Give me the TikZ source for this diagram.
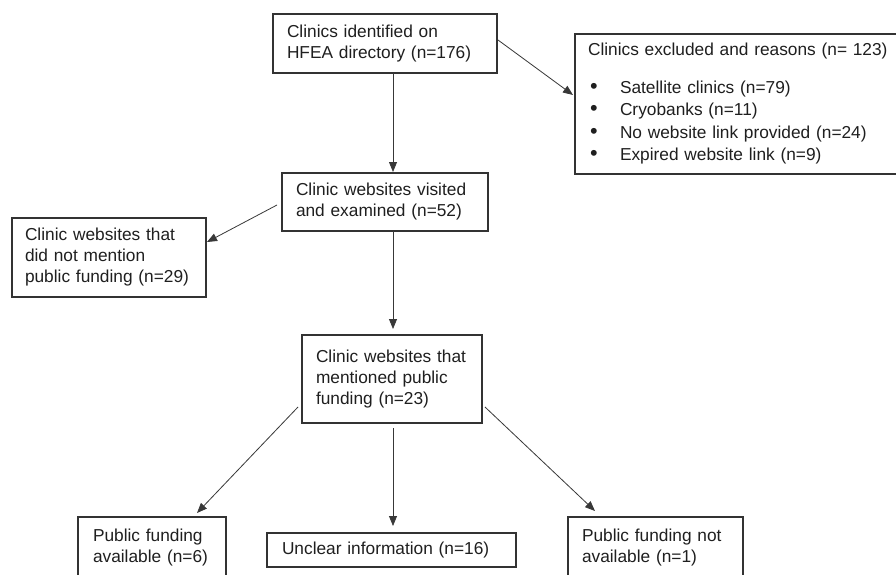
\documentclass[tikz,border=0pt]{standalone}
\usepackage{fontspec}
\setmainfont{Liberation Sans}
\usetikzlibrary{arrows.meta,calc}
\begin{document}
\begin{tikzpicture}[x=1pt,y=-1pt,
  box/.style={draw=black!80, line width=1.2pt, anchor=north west, align=left,
    inner xsep=14pt, inner ysep=0pt, outer sep=0pt,
    font=\fontsize{17.3}{21}\selectfont, text=black!88},
  conn/.style={draw=black!78, line width=0.8pt, -{Triangle[length=10pt,width=8pt]}}]
\useasboundingbox (0,0) rectangle (896,575);
\fill[white] (0,0) rectangle (896,575);
\node[box, minimum width=346pt, minimum height=140pt, text width=320pt, inner xsep=13pt,
  font=\fontsize{17.3}{22.5}\selectfont] (excl) at (575,34)
  {Clinics excluded and reasons (n= 123)\\[15pt]
   \makebox[32pt][l]{\hspace{2pt}\scalebox{1.25}{•}}Satellite clinics (n=79)\\
   \makebox[32pt][l]{\hspace{2pt}\scalebox{1.25}{•}}Cryobanks (n=11)\\
   \makebox[32pt][l]{\hspace{2pt}\scalebox{1.25}{•}}No website link provided (n=24)\\
   \makebox[32pt][l]{\hspace{2pt}\scalebox{1.25}{•}}Expired website link (n=9)};
\node[box, minimum width=224pt, minimum height=59pt, text width=196pt] (ident) at (273,14)
  {Clinics identified on\\HFEA directory (n=176)};
\node[box, minimum width=206pt, minimum height=58pt, text width=178pt, inner xsep=13pt] (visited) at (282,173)
  {Clinic websites visited\\and examined (n=52)};
\node[box, minimum width=194pt, minimum height=79pt, text width=168pt, inner xsep=13pt] (notmention) at (12,218)
  {Clinic websites that\\did not mention\\public funding (n=29)};
\node[box, minimum width=180pt, minimum height=88pt, text width=152pt] (mentioned) at (302,335)
  {Clinic websites that\\mentioned public\\funding (n=23)};
\node[box, minimum width=148pt, minimum height=61pt, text width=118pt, inner xsep=15pt] (avail) at (78,517)
  {Public funding\\available (n=6)};
\node[box, minimum width=249pt, minimum height=34pt, text width=219pt, inner xsep=15pt] (unclear) at (267,533)
  {Unclear information (n=16)};
\node[box, minimum width=175pt, minimum height=61pt, text width=147pt] (notavail) at (568,517)
  {Public funding not\\available (n=1)};
\draw[conn] ($(ident.north west)+(225,26)$) -- ($(excl.north west)+(-2,61)$);
\draw[conn] ($(ident.south west)+(120,0)$) -- ($(visited.north west)+(111,-1)$);
\draw[conn] ($(visited.north west)+(-5,32)$) -- ($(notmention.north east)+(1,24)$);
\draw[conn] ($(visited.south west)+(111,0)$) -- ($(mentioned.north west)+(91,-6)$);
\draw[conn] ($(mentioned.north west)+(-4,72)$) -- ($(avail.north west)+(119,-4)$);
\draw[conn] ($(mentioned.south west)+(91,5)$) -- ($(unclear.north west)+(126,-7)$);
\draw[conn] ($(mentioned.north east)+(3,72)$) -- ($(notavail.north west)+(27,-6)$);
\end{tikzpicture}
\end{document}
